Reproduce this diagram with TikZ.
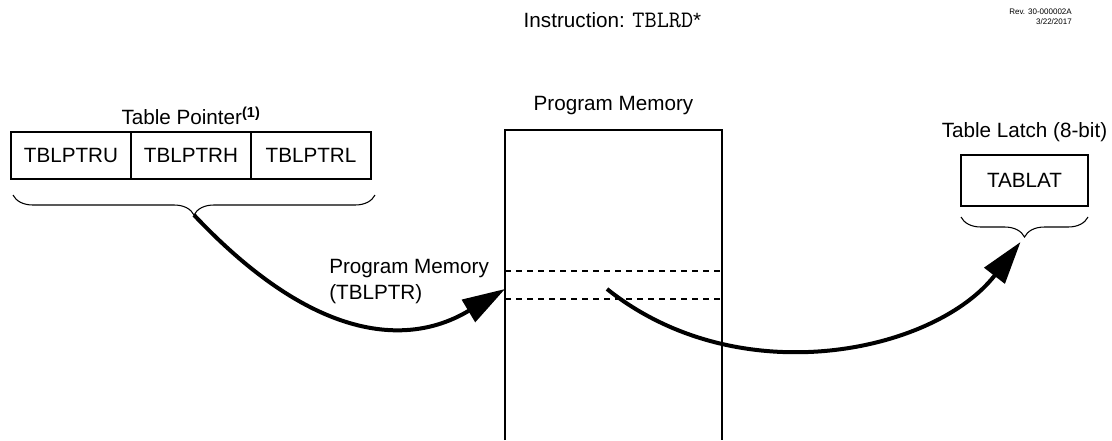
\documentclass[tikz,border=0pt]{standalone}
\usepackage{fontspec}
\setmainfont{Liberation Sans}
\usetikzlibrary{arrows.meta,positioning,calc,decorations.pathreplacing}
\newcommand{\CW}{90pt}
\newcommand{\CH}{35.25pt}

\begin{document}
\begin{tikzpicture}[
    x=0.75pt, y=-0.75pt,
    txt/.style={font=\fontsize{15.5}{19.5}\selectfont, inner sep=0pt},
    reg/.style={draw=black, line width=1pt, minimum width=\CW, minimum height=\CH,
                inner sep=0pt, outer sep=0pt, font=\fontsize{15.5}{19.5}\selectfont},
    slot/.style={draw=black, dash pattern=on 4.5pt off 3.75pt, line width=1pt},
    curly/.style={draw=black, line width=0.8pt, decorate, decoration={brace, mirror, amplitude=15pt}},
    flow/.style={line width=3pt, -{Triangle[length=32pt, width=19pt]}},
  ]
  \useasboundingbox (0,0) rectangle (1112,440);

  %% ================= header =================
  \node[txt] (instr) at (612.5,20.5) {Instruction: {\fontsize{17.7}{19.5}\ttfamily TBLRD}*};
  \node[font=\fontsize{6}{7.5}\selectfont, inner sep=0pt, align=right, anchor=north east]
    (rev) at (1072,9) {Rev. 30-000002A\\3/22/2017};

  %% ================= table pointer =================
  \node[reg] (tpu) at (71,155.5) {TBLPTRU};
  \node[reg, right=0pt of tpu] (tph) {TBLPTRH};
  \node[reg, right=0pt of tph] (tpl) {TBLPTRL};
  \node[txt, above=5pt of tph] (tptitle) {Table Pointer\textsuperscript{\bfseries (1)}};

  \draw[curly] ($(tpu.south west)+(2,16)$) -- ($(tpl.south east)+(4,16)$);
  \coordinate (ptrtip) at ($(tpu.south west)!0.5!(tpl.south east)+(3,36)$);

  %% ================= program memory =================
  \node[minimum width=162.75pt, minimum height=232.5pt, inner sep=0pt, outer sep=0pt] (mem) at (613.5,285) {};
  \draw[line width=1pt] (mem.south west) |- (mem.north east) -- (mem.south east);
  \node[txt, above=11pt of mem] (memtitle) {Program Memory};

  % the addressed byte
  \draw[slot] ($(mem.west)+(0,-14)$) -- ($(mem.east)+(0,-14)$);
  \draw[slot] ($(mem.west)+(0,14)$) -- ($(mem.east)+(0,14)$);
  \node[txt, align=left, anchor=west] (addr) at (329,281.5) {Program Memory\\(TBLPTR)};

  \coordinate (wr) at ($(mem.west)+(0,4)$);
  \coordinate (rd) at (607,289);

  %% ================= table latch =================
  \node[reg, minimum width=95.25pt, minimum height=38.25pt] (tablat) at (1024.5,180.5) {TABLAT};
  \node[txt, above=10pt of tablat] (lattitle) {Table Latch (8-bit)};
  \draw[curly] ($(tablat.south west)+(0,11)$) -- ($(tablat.south east)+(0,11)$);
  \coordinate (lattip) at ($(tablat.south)+(0,31)$);
  \coordinate (latend) at ($(lattip)+(-4,5)$);

  %% ================= transfers =================
  \draw[flow] (ptrtip) .. controls +(150,159) and +(-65,39) .. (wr);
  \draw[flow] (rd) .. controls +(133,106) and +(-85,110) .. (latend);

\end{tikzpicture}
\end{document}
